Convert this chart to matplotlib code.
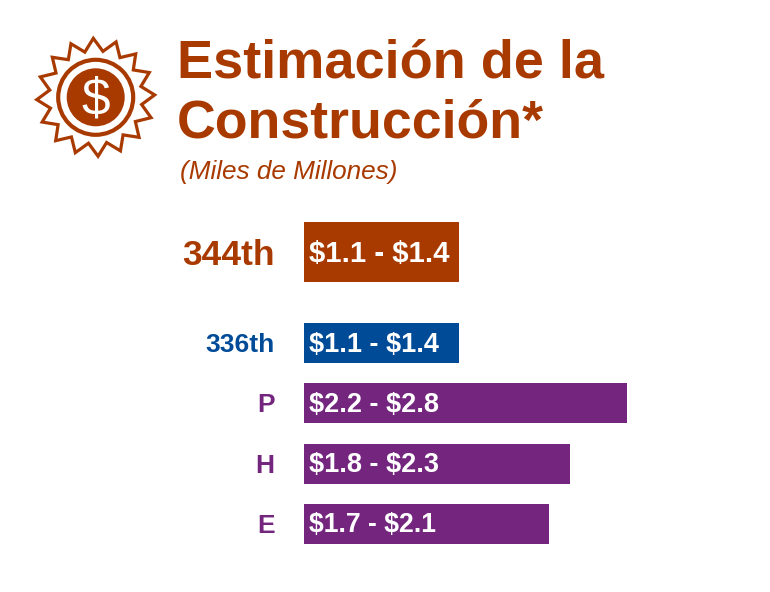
import numpy as np
import matplotlib
matplotlib.use('Agg')
import matplotlib.pyplot as plt
from matplotlib.patches import Circle, Polygon

# data
categories = ['344th', '336th', 'P', 'H', 'E']
bar_values = [1.345, 1.345, 2.80, 2.31, 2.13]  # drawn length, billions
bar_labels = ['$1.1 - $1.4', '$1.1 - $1.4', '$2.2 - $2.8', '$1.8 - $2.3', '$1.7 - $2.1']
title_lines = ['Estimación de la', 'Construcción*']
subtitle = '(Miles de Millones)'

# layout
row_pos = [-1.515, 0, 1.0, 2.01, 3.01]
row_heights = [1.0, 0.67, 0.67, 0.67, 0.67]
colors = ['#A83A00', '#004B97', '#74267F', '#74267F', '#74267F']
label_sizes = [25.5, 19, 19, 19, 19]
bar_text_sizes = [21.2, 19.5, 19.5, 19.5, 19.2]

W, H = 770, 592
ORANGE = '#A83A00'
plt.rcParams['font.family'] = ['Liberation Sans', 'DejaVu Sans']

fig = plt.figure(figsize=(W / 100, H / 100), dpi=100)

# overlay in pixel coords for title + icon
bg = fig.add_axes([0, 0, 1, 1])
bg.set_xlim(0, W)
bg.set_ylim(H, 0)
bg.axis('off')

px_per_unit = 323 / 2.8
ax = fig.add_axes([0, 0, 1, 1])
ax.patch.set_alpha(0)
ax.set_xlim(-303.5 / px_per_unit, (W - 303.5) / px_per_unit)
ax.set_ylim((H - 343) / 60.0, -343 / 60.0)
ax.axis('off')

ax.barh(row_pos, bar_values, height=row_heights, color=colors)
for i, cat in enumerate(categories):
    ax.text(-29 / px_per_unit, row_pos[i], cat, color=colors[i], fontsize=label_sizes[i],
            fontweight='bold', ha='right', va='center_baseline', parse_math=False)
    ax.text(5.5 / px_per_unit, row_pos[i] - 0.02, bar_labels[i], color='white', parse_math=False,
            fontsize=bar_text_sizes[i], fontweight='bold', ha='left', va='center_baseline')

# title
bg.text(177, 77, title_lines[0], color=ORANGE, fontsize=39, fontweight='bold', ha='left', va='baseline')
bg.text(177, 138, title_lines[1], color=ORANGE, fontsize=38.6, fontweight='bold', ha='left', va='baseline')
bg.text(180, 179, subtitle, color=ORANGE, fontsize=18.8, style='italic', ha='left', va='baseline')

# icon
cx, cy = 95.7, 97.3
n = 16
ang = np.pi / 2 + np.radians(2.3) + np.arange(2 * n) * np.pi / n
rad = np.where(np.arange(2 * n) % 2 == 0, 59, 46.5)
star = np.column_stack([cx + rad * np.cos(ang), cy - rad * np.sin(ang)])
bg.add_patch(Polygon(star, closed=True, fill=False, ec=ORANGE, lw=2.3, joinstyle='miter'))
bg.add_patch(Circle((cx, cy), 37.5, fill=False, ec=ORANGE, lw=3))
bg.add_patch(Circle((cx, cy), 29, fc=ORANGE, ec='none'))
bg.text(cx, cy + 4, '$', color='white', fontsize=37, ha='center', va='center', parse_math=False)

fig.savefig('out.png', dpi=100)
